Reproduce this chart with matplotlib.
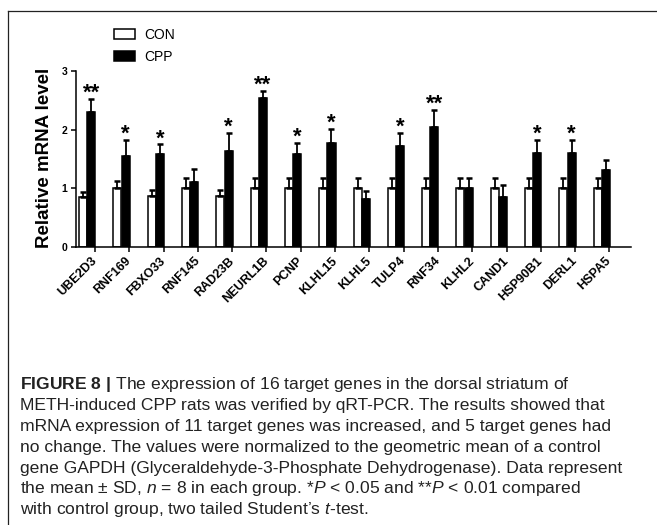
import matplotlib
matplotlib.use('Agg')
import matplotlib.pyplot as plt
import numpy as np
from matplotlib.lines import Line2D

genes = ['UBE2D3', 'RNF169', 'FBXO33', 'RNF145', 'RAD23B', 'NEURL1B', 'PCNP',
         'KLHL15', 'KLHL5', 'TULP4', 'RNF34', 'KLHL2', 'CAND1', 'HSP90B1',
         'DERL1', 'HSPA5']
con_mean = [0.85, 1.00, 0.87, 1.00, 0.87, 1.00, 1.00, 1.00, 1.00, 1.00, 1.00,
            1.00, 1.00, 1.00, 1.00, 1.00]
con_sd = [0.08, 0.12, 0.10, 0.18, 0.10, 0.18, 0.18, 0.18, 0.18, 0.18, 0.18,
          0.18, 0.18, 0.18, 0.18, 0.18]
cpp_mean = [2.30, 1.55, 1.58, 1.11, 1.64, 2.54, 1.58, 1.78, 0.81, 1.72, 2.05,
            1.00, 0.85, 1.60, 1.60, 1.31]
cpp_sd = [0.22, 0.28, 0.17, 0.22, 0.31, 0.12, 0.20, 0.23, 0.15, 0.23, 0.29,
          0.18, 0.21, 0.23, 0.23, 0.18]
signif = ['**', '*', '*', '', '*', '**', '*', '*', '', '*', '**', '', '',
          '*', '*', '']
yticks = [0, 1, 2, 3]
legend_labels = ['CON', 'CPP']
ylabel = 'Relative mRNA level'
caption_lines = [
    r"$\mathbf{FIGURE\ 8\ |}$ The expression of 16 target genes in the dorsal striatum of",
    "METH-induced CPP rats was verified by qRT-PCR. The results showed that",
    "mRNA expression of 11 target genes was increased, and 5 target genes had",
    "no change. The values were normalized to the geometric mean of a control",
    "gene GAPDH (Glyceraldehyde-3-Phosphate Dehydrogenase). Data represent",
    r"the mean ± SD, $\mathit{n}$ = 8 in each group. *$\mathit{P}$ < 0.05 and **$\mathit{P}$ < 0.01 compared",
    r"with control group, two tailed Student’s $\mathit{t}$-test.",
]

plt.rcParams['font.family'] = ['Liberation Sans', 'DejaVu Sans']
plt.rcParams['mathtext.fontset'] = 'custom'
plt.rcParams['mathtext.rm'] = 'Liberation Sans'
plt.rcParams['mathtext.it'] = 'Liberation Sans:italic'
plt.rcParams['mathtext.bf'] = 'Liberation Sans:bold'

W, H = 657, 525
fig = plt.figure(figsize=(W / 100, H / 100), dpi=100)
ax = fig.add_axes([76 / W, 1 - 247 / H, (631 - 76) / W, (247 - 71) / H])

n = len(genes)
x = np.arange(n)
lw = 1.1
bw = 0.235
b_con = ax.bar(x - 0.345, con_mean, bw, color='white', edgecolor='black',
               linewidth=lw, zorder=2, label=legend_labels[0])
b_cpp = ax.bar(x - 0.105, cpp_mean, bw, color='black', edgecolor='black',
               linewidth=lw, zorder=2, label=legend_labels[1])
ax.errorbar(x - 0.345, con_mean, yerr=[np.zeros(n), con_sd], fmt='none',
            ecolor='black', elinewidth=1.3, capsize=2.2, capthick=1.8, zorder=3)
ax.errorbar(x - 0.105, cpp_mean, yerr=[np.zeros(n), cpp_sd], fmt='none',
            ecolor='black', elinewidth=1.3, capsize=2.2, capthick=1.8, zorder=3)

for i, s in enumerate(signif):
    if s:
        ax.annotate(s, (x[i] - 0.105, cpp_mean[i] + cpp_sd[i]),
                    xytext=(0, 0), textcoords='offset points', ha='center',
                    va='baseline', fontsize=16, fontweight='bold')

ax.set_xlim(-0.554, 15.627)
ax.set_ylim(0, 3)
ax.set_yticks(yticks)
ax.set_yticklabels([str(v) for v in yticks], fontsize=7.5, fontweight='bold')
ax.set_xticks(x)
ax.set_xticklabels(genes, rotation=45, ha='right', va='center',
                   rotation_mode='anchor', fontsize=9, fontweight='bold')
ax.tick_params(axis='both', direction='out', length=3.6, width=lw, color='black')
ax.tick_params(axis='x', pad=5)
ax.tick_params(axis='y', pad=2.5)
for sp in ['top', 'right']:
    ax.spines[sp].set_visible(False)
for sp in ['left', 'bottom']:
    ax.spines[sp].set_linewidth(lw)

fig.text(45 / W, 1 - 158 / H, ylabel, rotation=90, ha='center', va='center',
         fontsize=13.5, fontweight='bold')

fig.legend(handles=[b_con, b_cpp], labels=legend_labels, loc='upper left',
           bbox_to_anchor=(114 / W, 1 - 28 / H), frameon=False, fontsize=10,
           handlelength=1.5, handleheight=0.8, handletextpad=0.7,
           labelspacing=0.55, borderpad=0, borderaxespad=0)

# frame of the figure panel
fig.add_artist(Line2D([8 / W, 8 / W], [0, 1 - 11 / H], transform=fig.transFigure,
                      color='#222222', lw=0.9))
fig.add_artist(Line2D([8 / W, 1], [1 - 11 / H, 1 - 11 / H],
                      transform=fig.transFigure, color='#222222', lw=0.9))

# caption, scaled to fill the text width
renderer = fig.canvas.get_renderer()
probe = fig.text(0, 0, caption_lines[4], fontsize=10)
wpx = probe.get_window_extent(renderer).width
probe.remove()
cap_fs = 10 * (624 - 20) / wpx
y0 = 389
dy = 20.9
for i, line in enumerate(caption_lines):
    fig.text(20 / W, 1 - (y0 + i * dy) / H, line, fontsize=cap_fs,
             color='#222222', ha='left', va='baseline')

fig.savefig('out.png', dpi=100)
